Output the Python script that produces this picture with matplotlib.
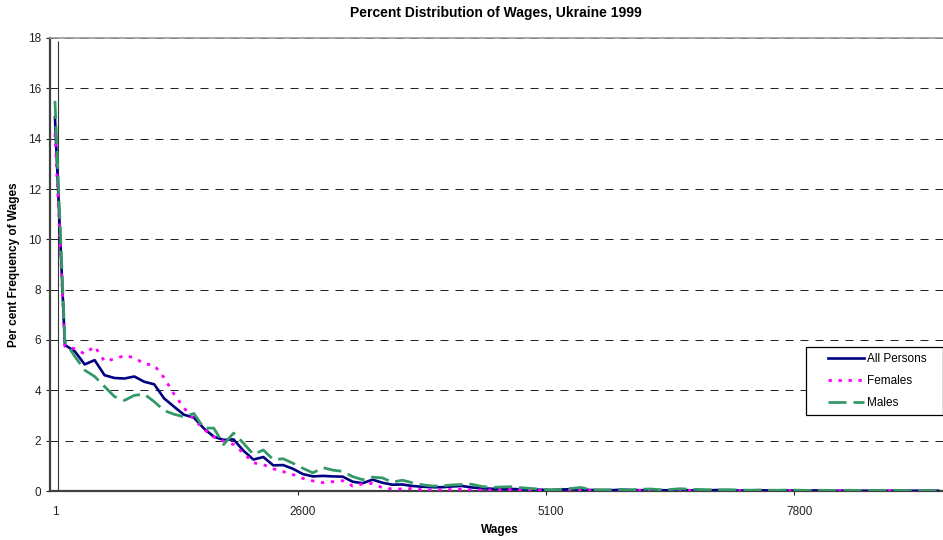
import matplotlib
matplotlib.use("Agg")
import matplotlib.pyplot as plt
from matplotlib.lines import Line2D
from matplotlib.legend_handler import HandlerLine2D

plt.rcParams['font.family'] = ['Liberation Sans', 'DejaVu Sans']

# wage categories (only every 25th one is labelled on the axis)
tick_labels = ["1", "2600", "5100", "7800"]

all_persons = [14.85, 5.8, 5.55, 5.03, 5.2, 4.6, 4.49, 4.47, 4.55, 4.34,
               4.24, 3.68, 3.35, 3.03, 2.92, 2.49, 2.16, 2.03, 2.05, 1.6,
               1.25, 1.35, 1.02, 1.03, 0.88, 0.67, 0.58, 0.6, 0.58, 0.57,
               0.37, 0.31, 0.45, 0.33, 0.25, 0.26, 0.2, 0.17, 0.15, 0.15,
               0.18, 0.2, 0.14, 0.11, 0.09, 0.08, 0.08, 0.07, 0.06, 0.05,
               0.04, 0.06, 0.07, 0.06, 0.04, 0.04, 0.03, 0.05, 0.04, 0.03,
               0.04, 0.03, 0.03, 0.04, 0.03, 0.02, 0.03, 0.04, 0.03, 0.02,
               0.02, 0.03, 0.02, 0.02, 0.02, 0.01, 0.02, 0.02, 0.01, 0.01,
               0.02, 0.01, 0.01, 0.01, 0.01, 0.01, 0.01, 0.01, 0.01, 0.01]

females = [14.2, 5.75, 5.65, 5.45, 5.75, 5.15, 5.25, 5.38, 5.3, 5.05,
           5.0, 4.5, 3.85, 3.3, 2.85, 2.45, 2.15, 1.98, 1.85, 1.5,
           1.12, 1.05, 0.88, 0.77, 0.65, 0.5, 0.4, 0.33, 0.37, 0.41,
           0.2, 0.28, 0.3, 0.13, 0.08, 0.08, 0.1, 0.05, 0.04, 0.04,
           0.06, 0.07, 0.04, 0.04, 0.04, 0.05, 0.06, 0.04, 0.03, 0.03,
           0.02, 0.03, 0.05, 0.03, 0.02, 0.02, 0.03, 0.02, 0.02, 0.03,
           0.02, 0.02, 0.01, 0.02, 0.02, 0.01, 0.02, 0.01, 0.01, 0.01,
           0.01, 0.01, 0.01, 0.01, 0.01, 0.01, 0.01, 0.01, 0.01, 0.01,
           0.01, 0.01, 0.0, 0.01, 0.01, 0.0, 0.01, 0.0, 0.0, 0.0]

males = [15.5, 5.95, 5.35, 4.8, 4.55, 4.15, 3.75, 3.6, 3.8, 3.85,
         3.55, 3.2, 3.05, 2.95, 3.08, 2.5, 2.5, 1.85, 2.3, 1.9,
         1.45, 1.63, 1.25, 1.28, 1.1, 0.9, 0.72, 0.93, 0.83, 0.78,
         0.57, 0.45, 0.55, 0.52, 0.35, 0.43, 0.33, 0.25, 0.2, 0.2,
         0.24, 0.26, 0.27, 0.18, 0.14, 0.16, 0.17, 0.13, 0.1, 0.07,
         0.04, 0.07, 0.1, 0.14, 0.05, 0.04, 0.05, 0.06, 0.04, 0.07,
         0.08, 0.05, 0.06, 0.09, 0.07, 0.06, 0.05, 0.04, 0.05, 0.04,
         0.03, 0.04, 0.03, 0.03, 0.04, 0.03, 0.02, 0.03, 0.02, 0.02,
         0.03, 0.02, 0.02, 0.02, 0.01, 0.02, 0.01, 0.01, 0.01, 0.01]

n = len(all_persons)
x = list(range(n))

fig = plt.figure(figsize=(9.43, 5.40), dpi=100)
ax = fig.add_axes([50 / 943, 49 / 540, 893 / 943, 453 / 540])

ax.plot(x, all_persons, color='#000080', lw=1.9, label='All Persons', zorder=3)
ax.plot(x, females, color='#FF00FF', lw=2.0, dashes=(1.2, 2.4),
        label='Females', zorder=4)
ax.plot(x, males, color='#339966', lw=2.0, dashes=(6.5, 2.5),
        label='Males', zorder=5)

# odd vertical line next to the y axis in the original
ax.vlines(0.3, 0, 17.9, color='#333333', lw=0.8, zorder=2)

ax.set_xlim(-0.5, n - 0.5)
ax.set_ylim(0, 18)
ax.set_yticks(range(0, 19, 2))
ax.set_xticks([0, 25, 50, 75])
ax.set_xticklabels(tick_labels)
ax.set_xticks([24.5, 49.5, 74.5], minor=True)
ax.tick_params(axis='x', which='major', length=0, pad=11, labelsize=8.5,
               colors='#222222')
ax.tick_params(axis='x', which='minor', length=3, width=0.8, color='#222222')
ax.tick_params(axis='y', length=3, width=0.8, pad=3.5, labelsize=8.5,
               colors='#222222')

ax.yaxis.grid(True, color='#222222', lw=0.72, linestyle=(0, (8, 7)))
ax.set_axisbelow(True)

for side in ['left', 'bottom']:
    ax.spines[side].set_color('#404040')
    ax.spines[side].set_linewidth(1.6)
ax.spines['top'].set_color('#999999')
ax.spines['top'].set_linewidth(1.2)
ax.spines['right'].set_visible(False)

leg = ax.legend(loc='upper left',
                bbox_to_anchor=(806 / 943, 126 / 540, 137 / 943, 67 / 540),
                bbox_transform=fig.transFigure, borderaxespad=0, mode='expand',
                fontsize=8.5, frameon=True, fancybox=False, edgecolor='black',
                framealpha=1, handlelength=4.4, handletextpad=0.25,
                labelspacing=0.85, borderpad=0.5,
                handler_map={Line2D: HandlerLine2D(xpad=1.35)})
leg.get_frame().set_linewidth(0.9)

fig.text(496 / 943, 1 - 13 / 540, 'Percent Distribution of Wages, Ukraine 1999',
         ha='center', va='center', fontsize=10, fontweight='bold')
fig.text(500 / 943, 1 - 530 / 540, 'Wages', ha='center', va='center',
         fontsize=8.5, fontweight='bold')
fig.text(14 / 943, 1 - 265 / 540, 'Per cent Frequency of Wages', ha='center',
         va='center', rotation=90, fontsize=8.5, fontweight='bold')

fig.savefig('out.png', dpi=100)
